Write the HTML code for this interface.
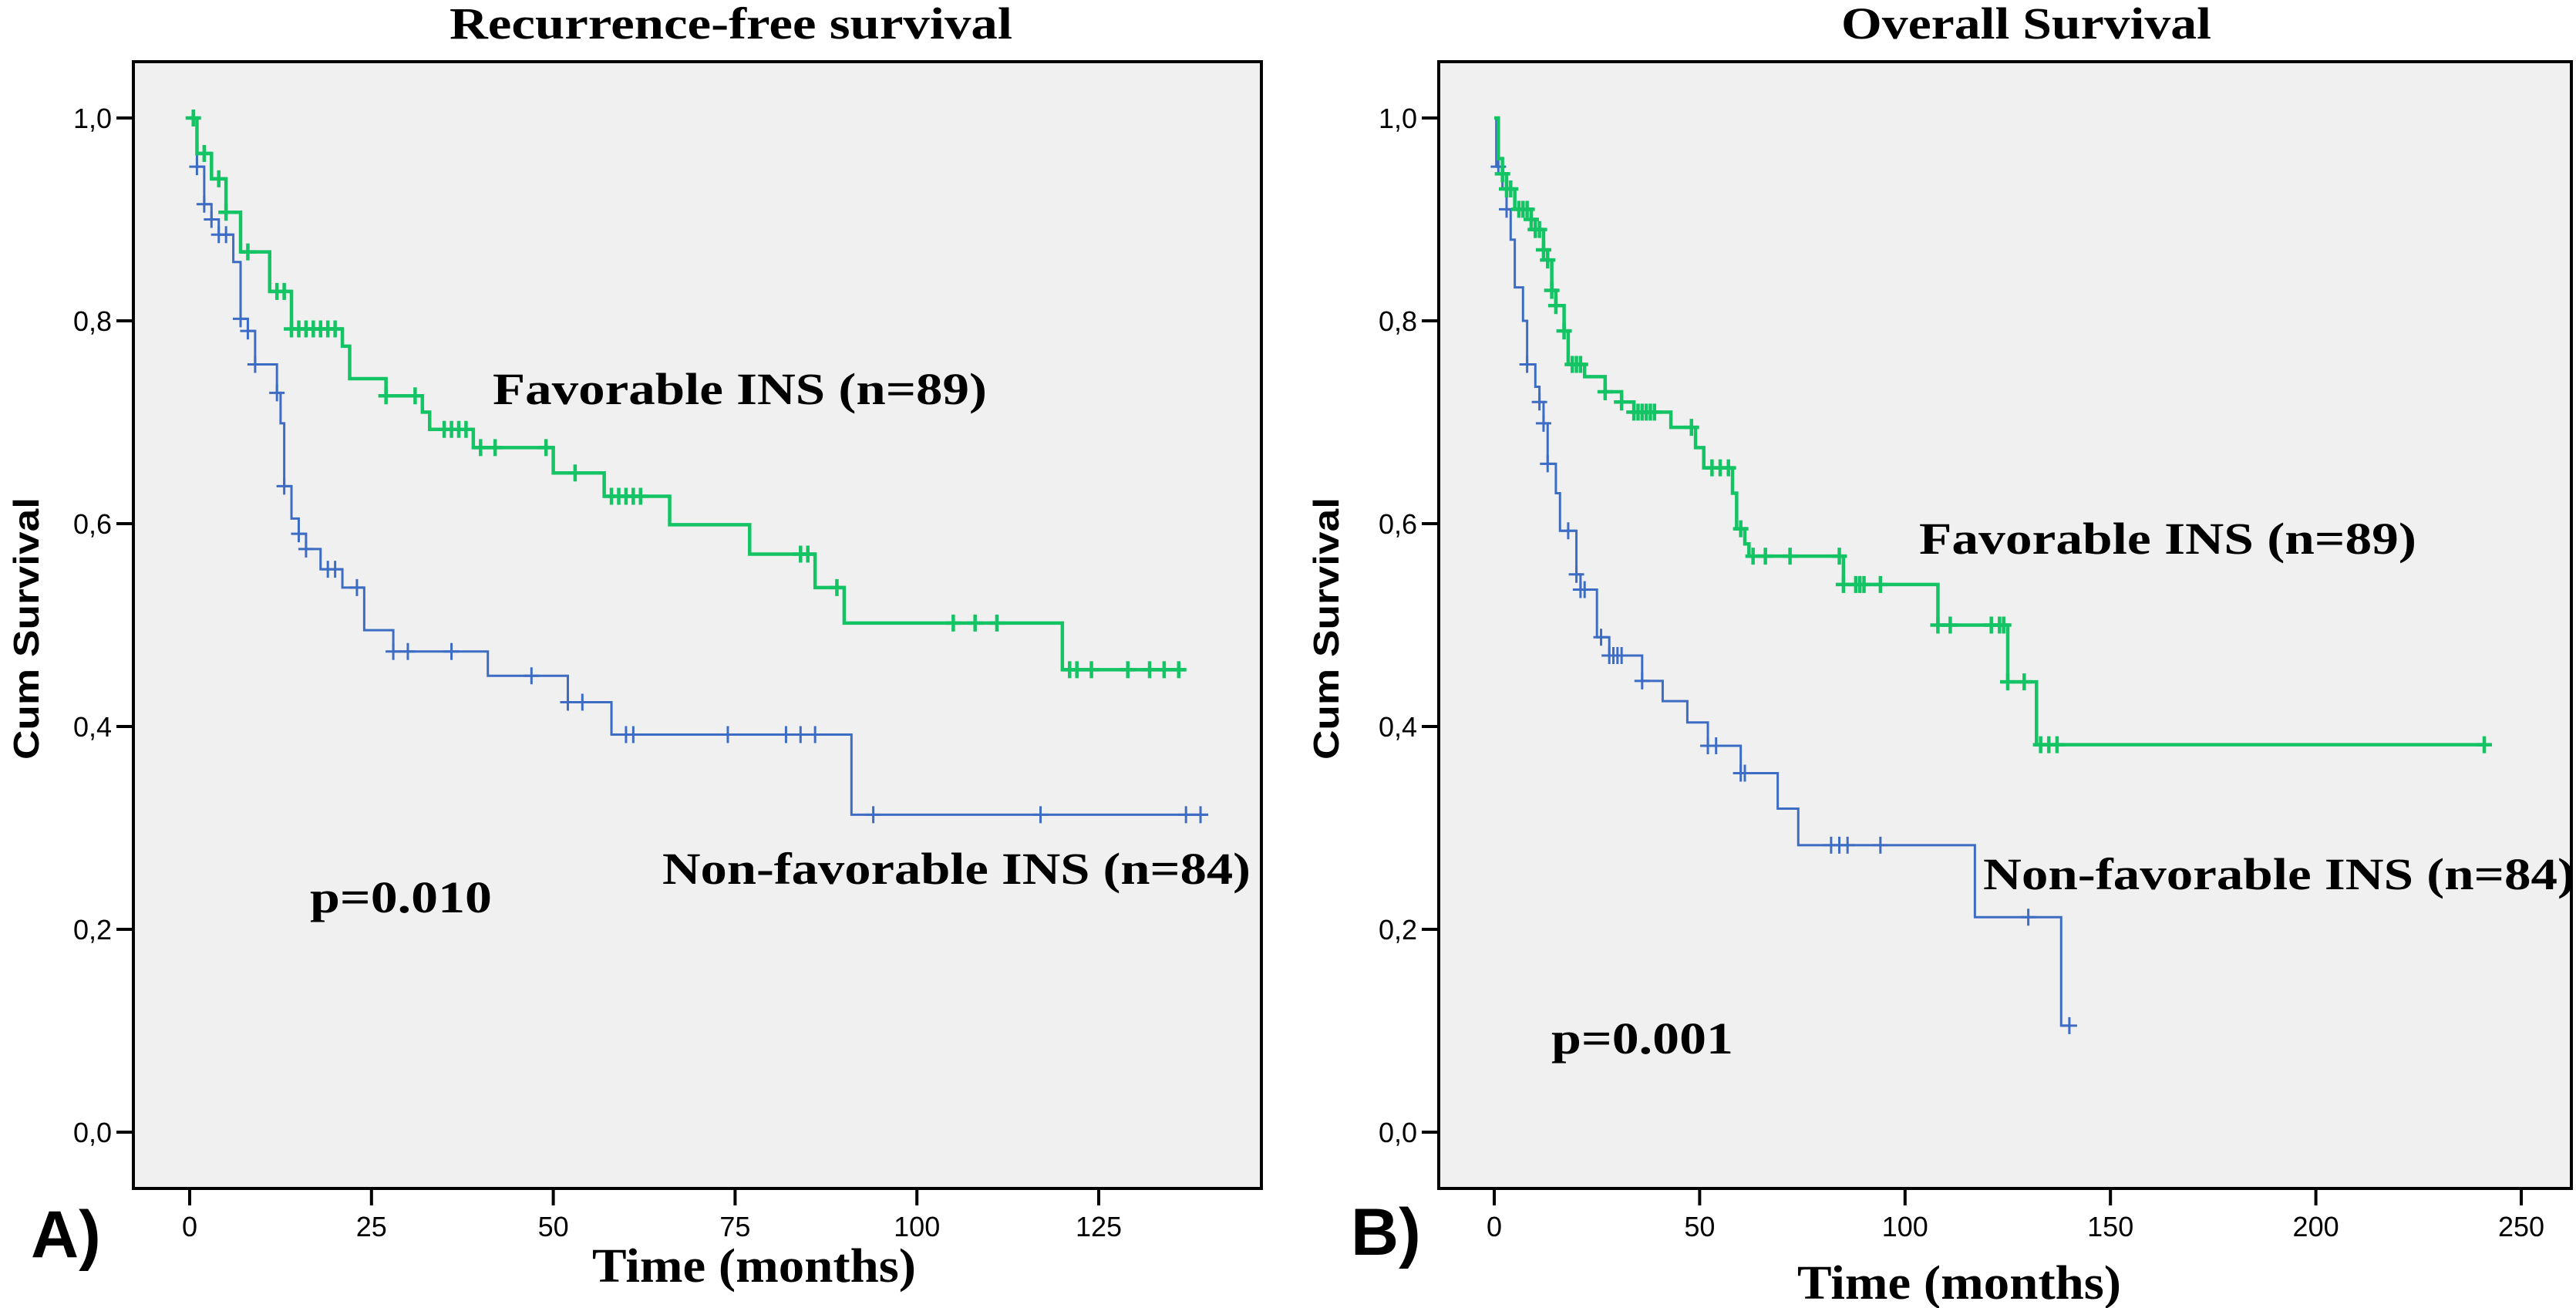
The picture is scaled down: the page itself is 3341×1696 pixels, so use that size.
<!DOCTYPE html>
<html><head><meta charset="utf-8"><style>
html,body{margin:0;padding:0;background:#fff;}
svg{display:block;}
.tk{font-family:"Liberation Sans",sans-serif;font-size:36px;fill:#000;}
.ser{font-family:"Liberation Serif",serif;font-weight:bold;fill:#000;}
</style></head><body>
<svg id="chart" width="3341" height="1696" viewBox="0 0 3341 1696" xmlns="http://www.w3.org/2000/svg"></svg>
<script>
// Panel A data (Recurrence-free survival)
const aFavTimes=[0,1,3,5,7,11,14,21,22,27,32,33,39,50,57,66,77,86,90,120,137];
const aFavSurv=[1,.965,.94,.907,.868,.829,.792,.775,.743,.726,.71,.693,.675,.65,.627,.599,.57,.537,.502,.456,.456];
const aFavCens=[0.5,2,4,5,8,12,13,14,15,16,17,18,19,20,27,31,35,36,37,38,40,42,49,53,58,59,60,61,62,84,85,89,105,108,111,121,122,124,129,132,134,136];
const aNonTimes=[0,1,2,3,4,6,7,8,9,12,12.5,13,14,15,16,18,21,24,28,41,52,58,91,140];
const aNonSurv=[1,.952,.915,.9,.885,.858,.802,.79,.757,.729,.699,.637,.605,.59,.575,.555,.537,.495,.474,.45,.424,.392,.313,.313];
const aNonCens=[1,2,3,4,5,7,8,9,12,13,15,16,19,20,23,28,30,36,47,52,54,60,61,74,82,84,86,94,117,137,139];
const aXTicks=[0,25,50,75,100,125];
// Panel B data (Overall survival)
const bFavTimes=[0,1,2,3,5,9,10,12,13,14,15,17,18,22,27,31,34,43,49,51,58,59,61,62,85,108,125,132,241];
const bFavSurv=[1,.96,.945,.93,.91,.9,.89,.87,.86,.83,.815,.79,.757,.745,.73,.72,.71,.695,.675,.655,.63,.595,.58,.568,.54,.5,.444,.382,.382];
const bFavCens=[2,3,4,6,7,8,9,10,11,12,13,14,15,17,19,20,21,27,31,34,35,36,37,38,39,48,53,55,57,60,63,66,72,84,85,88,89,90,94,108,111,121,123,124,125,129,133,135,137,241];
const bNonTimes=[0,0.5,2,3,4,5,7,8,10,11,12,13,15,16,20,21,25,28,36,41,47,52,60,69,74,117,138,140];
const bNonSurv=[1,.952,.93,.91,.88,.833,.8,.757,.735,.72,.699,.659,.63,.593,.55,.535,.488,.47,.445,.425,.404,.381,.354,.319,.283,.212,.105,.105];
const bNonCens=[1,3,8,11,12,13,18,20,21,22,26,28,29,30,31,36,52,54,60,61,82,84,86,94,130,140];
const bXTicks=[0,50,100,150,200,250];
const yTicks=[0,0.2,0.4,0.6,0.8,1.0];
const yTickLabels=["0,0","0,2","0,4","0,6","0,8","1,0"];

const NS="http://www.w3.org/2000/svg";
const svg=document.getElementById('chart');
function mk(tag,attrs,parent){const e=document.createElementNS(NS,tag);for(const k in attrs)e.setAttribute(k,attrs[k]);(parent||svg).appendChild(e);return e;}
function survAt(times,surv,t){let s=surv[0];for(let i=0;i<times.length;i++){if(times[i]<=t)s=surv[i];}return s;}

function panel(id,box,xmax,x0px,xmaxpx,xTicks,series,texts){
  const g=mk('g',{});
  
  
  const X=t=>x0px+(t/xmax)*(xmaxpx-x0px);
  const Y=v=>1468-v*(1468-153);
  const bg=mk('rect',{x:box[0],y:box[1],width:box[2]-box[0],height:box[3]-box[1],fill:'#f0f0f0',stroke:'#000','stroke-width':4},g);
  
  
  yTicks.forEach((v,i)=>{
    const l=mk('line',{x1:box[0]-22,x2:box[0],y1:Y(v),y2:Y(v),stroke:'#000','stroke-width':4},g);
    
    
    const t=mk('text',{x:box[0]-28,y:Y(v)+13,'text-anchor':'end',class:'tk'},g);t.textContent=yTickLabels[i];
    
    
  });
  xTicks.forEach(v=>{
    const l=mk('line',{x1:X(v),x2:X(v),y1:box[3],y2:box[3]+22,stroke:'#000','stroke-width':4},g);
    
    
    const t=mk('text',{x:X(v),y:box[3]+62,'text-anchor':'middle',class:'tk'},g);t.textContent=v;
    
    
  });
  series.forEach(s=>{
    let d='M'+X(s.times[0])+','+Y(s.surv[0]);
    for(let i=1;i<s.times.length;i++){d+=' H'+X(s.times[i])+' V'+Y(s.surv[i]);}
    const p=mk('path',{d:d,fill:'none',stroke:s.color,'stroke-width':s.w},g);
    
    
    s.cens.forEach(c=>{
      const cx=X(c),cy=Y(survAt(s.times,s.surv,c));
      const m=mk('path',{d:`M${cx},${cy-11}V${cy+11}M${cx-10},${cy}H${cx+10}`,stroke:s.color,'stroke-width':s.w,fill:'none'},g);
      
      
    });
  });
  texts.forEach(tx=>{
    tx.a.lengthAdjust='spacingAndGlyphs';
    const t=mk('text',tx.a,g);t.textContent=tx.s;
    
    
  });
}
const green='#14c464',blue='#3d6cc4';
panel('rfs',[173,80,1636,1541],125,246,1425,aXTicks,[
 {name:'non-favorable',times:aNonTimes,surv:aNonSurv,cens:aNonCens,color:blue,w:3},
 {name:'favorable',times:aFavTimes,surv:aFavSurv,cens:aFavCens,color:green,w:4.5}],[
 {s:'Recurrence-free survival',n:'chart-title',a:{x:948,y:50,'text-anchor':'middle',class:'ser','font-size':58,textLength:730}},
 {s:'Cum Survival',n:'y-axis-title',a:{x:0,y:0,transform:'translate(50,815) rotate(-90)','text-anchor':'middle','font-family':'Liberation Sans, sans-serif','font-weight':'bold','font-size':46,textLength:340}},
 {s:'Time (months)',n:'x-axis-title',a:{x:978,y:1662,'text-anchor':'middle',class:'ser','font-size':62,textLength:420}},
 {s:'A)',n:'panel-label',a:{x:40,y:1630,'font-family':'Liberation Sans, sans-serif','font-weight':'bold','font-size':86}},
 {s:'Favorable INS (n=89)',n:'favorable-label',a:{x:639,y:524,class:'ser','font-size':58,textLength:641}},
 {s:'Non-favorable INS (n=84)',n:'non-favorable-label',a:{x:859,y:1146,class:'ser','font-size':58,textLength:763}},
 {s:'p=0.010',n:'p-value',a:{x:402,y:1183,class:'ser','font-size':58,textLength:236}}
]);
panel('os',[1866,80,3335,1541],250,1938,3270,bXTicks,[
 {name:'non-favorable',times:bNonTimes,surv:bNonSurv,cens:bNonCens,color:blue,w:3},
 {name:'favorable',times:bFavTimes,surv:bFavSurv,cens:bFavCens,color:green,w:4.5}],[
 {s:'Overall Survival',n:'chart-title',a:{x:2628,y:50,'text-anchor':'middle',class:'ser','font-size':58,textLength:480}},
 {s:'Cum Survival',n:'y-axis-title',a:{x:0,y:0,transform:'translate(1736,815) rotate(-90)','text-anchor':'middle','font-family':'Liberation Sans, sans-serif','font-weight':'bold','font-size':46,textLength:340}},
 {s:'Time (months)',n:'x-axis-title',a:{x:2541,y:1684,'text-anchor':'middle',class:'ser','font-size':62,textLength:420}},
 {s:'B)',n:'panel-label',a:{x:1752,y:1627,'font-family':'Liberation Sans, sans-serif','font-weight':'bold','font-size':86}},
 {s:'Favorable INS (n=89)',n:'favorable-label',a:{x:2489,y:718,class:'ser','font-size':58,textLength:645}},
 {s:'Non-favorable INS (n=84)',n:'non-favorable-label',a:{x:2572,y:1153,class:'ser','font-size':58,textLength:768}},
 {s:'p=0.001',n:'p-value',a:{x:2012,y:1366,class:'ser','font-size':58,textLength:236}}
]);
</script>
</body></html>
